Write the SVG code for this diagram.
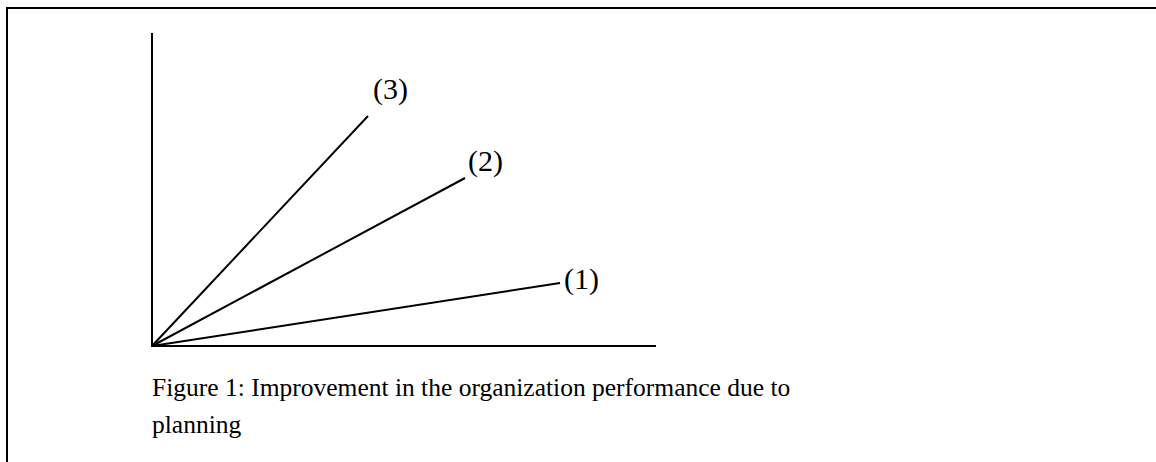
<svg xmlns="http://www.w3.org/2000/svg" width="1156" height="462" viewBox="0 0 1156 462">
  <style>
    .ln { stroke: #000; stroke-width: 2; fill: none; }
    .lbl { font-family: "Liberation Serif", "Times New Roman", serif; font-size: 30px; fill: #000; }
    .cap { font-family: "Liberation Serif", "Times New Roman", serif; font-size: 25.5px; fill: #000; }
  </style>
  <rect width="1156" height="462" fill="#fff"/>
  <!-- frame -->
  <path class="ln" d="M7 462 V8 H1156"/>
  <!-- axes -->
  <g id="axes">
    <line class="ln" x1="152" y1="33" x2="152" y2="347"/>
    <line class="ln" x1="151" y1="346" x2="656" y2="346"/>
  </g>
  <!-- performance lines from origin -->
  <g id="connectors">
    <line class="ln" x1="152" y1="346" x2="368" y2="116"/>
    <line class="ln" x1="152" y1="346" x2="465" y2="178"/>
    <line class="ln" x1="152" y1="346" x2="560" y2="283"/>
  </g>
  <g id="label-3"><text class="lbl" x="373" y="99">(3)</text></g>
  <g id="label-2"><text class="lbl" x="468" y="171">(2)</text></g>
  <g id="label-1"><text class="lbl" x="564" y="289">(1)</text></g>
  <g id="caption">
    <text class="cap" x="152" y="396">Figure 1: Improvement in the organization performance due to</text>
    <text class="cap" x="152" y="433">planning</text>
  </g>
</svg>
